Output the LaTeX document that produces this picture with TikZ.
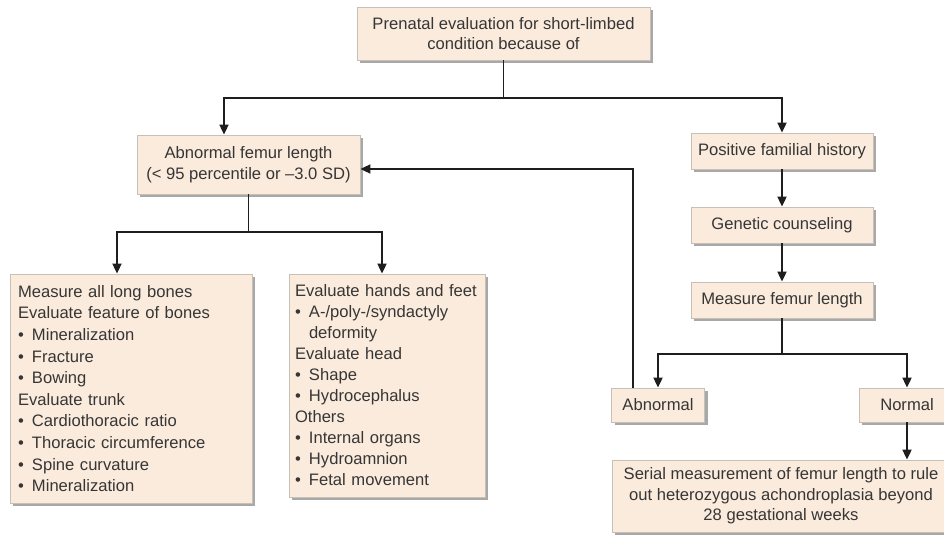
\documentclass[tikz,border=0pt]{standalone}
\usepackage{fontspec}
\setmainfont{Liberation Sans}
\usetikzlibrary{arrows.meta,shadows}
\definecolor{boxfill}{HTML}{FBEBDC}
\definecolor{boxline}{HTML}{C8BFB6}
\definecolor{shadowc}{HTML}{A8A8A8}
\definecolor{txt}{HTML}{363636}
\definecolor{linec}{HTML}{1E1E1E}
\newcommand{\bitem}{\makebox[14pt][l]{\textbullet}}
\begin{document}
\begin{tikzpicture}[x=1pt,y=-1pt,
  box/.style={draw=boxline, line width=0.8pt, fill=boxfill, text=txt,
    drop shadow={shadow xshift=3pt,shadow yshift=-3pt,fill=shadowc,opacity=1},
    inner sep=0pt, font=\fontsize{16.6}{20.5}\selectfont, align=center},
  listbox/.style={box, align=left, font=\fontsize{16.6}{21}\selectfont},
  conn/.style={draw=linec, line width=1.8pt},
  arr/.style={conn, -{Triangle[length=10pt,width=9pt]}}]
\useasboundingbox (0,0) rectangle (944,538);

% boxes
\node[box, minimum width=293pt, minimum height=53pt] (top) at (503.5,33.5)
  {Prenatal evaluation for short-limbed\\condition because of};
\node[box, minimum width=223pt, minimum height=59pt] (abn) at (248.5,164.5)
  {Abnormal femur length\\(< 95 percentile or –3.0 SD)};
\node[listbox, font=\fontsize{16.6}{21.6}\selectfont, minimum width=242pt, minimum height=229pt, text width=226pt, inner xsep=8pt] (lbox) at (131,388.5)
  {Measure all long bones\\
   Evaluate feature of bones\\
   \bitem Mineralization\\
   \bitem Fracture\\
   \bitem Bowing\\
   Evaluate trunk\\
   \bitem Cardiothoracic ratio\\
   \bitem Thoracic circumference\\
   \bitem Spine curvature\\
   \bitem Mineralization};
\node[listbox, minimum width=196pt, minimum height=223pt, text width=184pt, inner xsep=6pt] (mbox) at (387,385.5)
  {Evaluate hands and feet\\
   \bitem A-/poly-/syndactyly\\
   \hspace*{14pt}deformity\\
   Evaluate head\\
   \bitem Shape\\
   \bitem Hydrocephalus\\
   Others\\
   \bitem Internal organs\\
   \bitem Hydroamnion\\
   \bitem Fetal movement};
\node[box, minimum width=182pt, minimum height=36pt] (pfh) at (782,151) {Positive familial history};
\node[box, minimum width=182pt, minimum height=36pt] (gc) at (782,225) {Genetic counseling};
\node[box, minimum width=182pt, minimum height=36pt] (mfl) at (782,300) {Measure femur length};
\node[box, minimum width=93pt, minimum height=34pt] (abnl) at (658,405) {Abnormal};
\node[box, minimum width=96pt, minimum height=34pt] (norm) at (907,405) {Normal};
\node[box, minimum width=338pt, minimum height=72pt] (serial) at (781,496)
  {Serial measurement of femur length to rule\\out heterozygous achondroplasia beyond\\28 gestational weeks};

% junction coordinates
\coordinate (tj) at (503.5,98);
\coordinate (tl) at (224,98);
\coordinate (tr) at (782,98);
\coordinate (mj) at (248.5,232);
\coordinate (ml) at (117,232);
\coordinate (mr) at (382,232);
\coordinate (rj) at (782,354);
\coordinate (rl) at (658,354);
\coordinate (rr) at (907,354);
\coordinate (fb) at (633,169);

% connectors
\draw[arr] (top.south) -- (tj) -- (tl) -- (tl |- abn.north);
\draw[arr] (tj) -- (tr) -- (pfh.north);
\draw[arr] (abn.south) -- (mj) -- (ml) -- (ml |- lbox.north);
\draw[arr] (mj) -- (mr) -- (mr |- mbox.north);
\draw[arr] (pfh.south) -- (gc.north);
\draw[arr] (gc.south) -- (mfl.north);
\draw[arr] (mfl.south) -- (rj) -- (rl) -- (abnl.north);
\draw[arr] (rj) -- (rr) -- (norm.north);
\draw[arr] (norm.south) -- (norm.south |- serial.north);
\draw[arr] (fb |- abnl.north) -- (fb) -- (fb -| abn.east);
\end{tikzpicture}
\end{document}
